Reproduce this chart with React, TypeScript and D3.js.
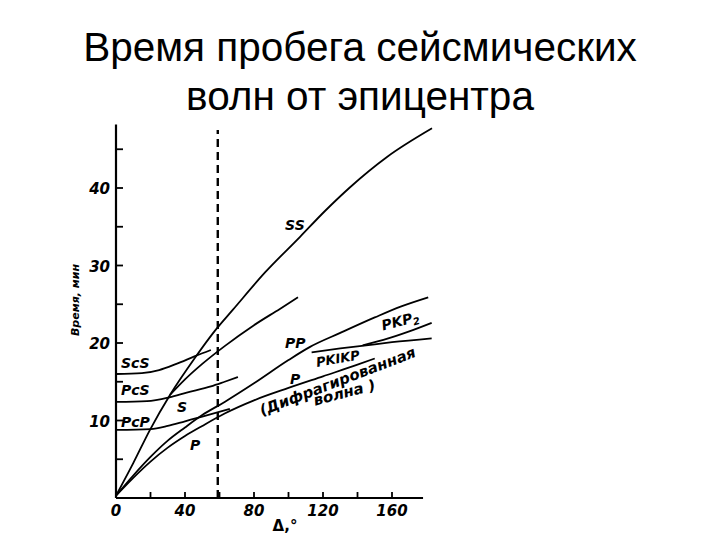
import React from "react";
import * as d3 from "d3";

const W = 720;
const H = 540;

// Axis ticks
const xTicks = [20, 40, 60, 80, 100, 120, 140, 160];
const xTickLabels = [0, 40, 80, 120, 160];
const yTicks = [5, 10, 15, 20, 25, 30, 35, 40, 45];
const yTickLabels = [10, 20, 30, 40];
const xAxisMax = 178;
const yAxisMax = 48.2;
const shadowBoundary = 59;

// Travel-time curves: [distance, deg ; time, min]
const curveSS: [number, number][] = [
  [0, 0.3], [10, 4.5], [19.7, 8.8], [31.3, 13.3], [45.8, 18.1], [57.4, 21.6], [67.8, 24.3],
  [86.4, 29.1], [106.7, 33.7], [121, 37.0], [135.7, 40.1], [157.1, 44.0], [183.2, 47.7],
];
const curveS: [number, number][] = [
  [31.3, 13.3], [40, 15.3], [50, 17.3], [63, 19.6], [80, 22.3], [95, 24.4], [105.5, 25.9],
];
const curveScS: [number, number][] = [
  [0, 16.0], [15, 16.1], [25, 16.5], [35, 17.3], [45.8, 18.3], [55, 19.1],
];
const curvePcS: [number, number][] = [
  [0, 12.4], [18, 12.5], [31, 13.0], [41, 13.6], [55, 14.4], [63, 15.0], [70.7, 15.6],
];
const curvePcP: [number, number][] = [
  [0, 8.8], [20, 8.9], [30, 9.3], [40, 9.9], [50, 10.5], [66, 11.5],
];
const curveP: [number, number][] = [
  [0, 0.3], [10, 2.6], [20, 4.7], [30, 6.5], [40, 8.0], [50, 9.3], [63, 10.9],
  [80, 12.6], [100, 14.2], [120, 15.7], [140, 17.2], [150, 18.0],
];
const curvePP: [number, number][] = [
  [0, 0.3], [10, 2.9], [20, 5.3], [30, 7.4], [40, 9.1], [50, 10.7], [63, 12.4],
  [80, 14.8], [100, 17.8], [112.5, 19.5], [130, 21.3], [150, 23.3], [165, 24.7], [181, 25.9],
];
const curvePKIKP: [number, number][] = [
  [113.4, 18.8], [130, 19.3], [145, 19.7], [160, 20.1], [183, 20.6],
];
const curvePKP2: [number, number][] = [
  [143, 19.7], [155, 20.4], [170, 21.5], [183, 22.6],
];

const curves = [curveSS, curveS, curveScS, curvePcS, curvePcP, curveP, curvePP, curvePKIKP, curvePKP2];

// Curve labels: text, distance, time, rotation
const curveLabels: { text: string; sub?: string; x: number; y: number; r: number; fs: number }[] = [
  { text: "SS", x: 98, y: 34.6, r: 0, fs: 14 },
  { text: "ScS", x: 2.9, y: 16.8, r: 0, fs: 14 },
  { text: "PcS", x: 2.9, y: 13.3, r: 0, fs: 14 },
  { text: "PcP", x: 2.9, y: 9.2, r: 0, fs: 14 },
  { text: "S", x: 35.4, y: 11.1, r: 0, fs: 14 },
  { text: "P", x: 42.9, y: 6.2, r: 0, fs: 14 },
  { text: "PP", x: 98, y: 19.4, r: 0, fs: 14 },
  { text: "P", x: 100.9, y: 14.7, r: 0, fs: 14 },
  { text: "PKIKP", x: 116.5, y: 16.9, r: -10, fs: 13 },
  { text: "PKP", sub: "2", x: 154.8, y: 21.6, r: -15, fs: 14 },
  { text: "(Дифрагированная", x: 84.6, y: 10.6, r: -21, fs: 15 },
  { text: "волна )", x: 115.4, y: 11.9, r: -15, fs: 15 },
];

const titleLines = ["Время пробега сейсмических", "волн от эпицентра"];
const yAxisTitle = "Время, мин";
const xAxisTitle = "Δ,°";

export default function App() {
  const x = d3.scaleLinear().domain([0, 160]).range([116, 392]);
  const y = d3.scaleLinear().domain([0, 40]).range([498, 188]);
  const line = d3
    .line<[number, number]>()
    .x((d) => x(d[0]))
    .y((d) => y(d[1]))
    .curve(d3.curveMonotoneX);

  const labelFont = "'DejaVu Sans', sans-serif";

  return (
    <svg
      width={W}
      height={H}
      style={{ position: "absolute", left: 0, top: 0, background: "#fff" }}
    >
      <rect width={W} height={H} fill="#fff" />
      {titleLines.map((t, i) => (
        <text
          key={i}
          x={360}
          y={61 + i * 49}
          textAnchor="middle"
          fontFamily="'Liberation Sans', Arial, sans-serif"
          fontSize={40.5}
          fill="#000"
        >
          {t}
        </text>
      ))}

      {/* axes */}
      <line x1={x(0)} y1={y(0)} x2={x(0)} y2={y(yAxisMax)} stroke="#000" strokeWidth={2.2} />
      <line x1={x(0)} y1={y(0)} x2={x(xAxisMax)} y2={y(0)} stroke="#000" strokeWidth={2.2} />
      {yTicks.map((t) => (
        <line key={t} x1={x(0)} x2={x(0) + 7} y1={y(t)} y2={y(t)} stroke="#000" strokeWidth={1.8} />
      ))}
      {xTicks.map((t) => (
        <line key={t} x1={x(t)} x2={x(t)} y1={y(0)} y2={y(0) - 6} stroke="#000" strokeWidth={1.8} />
      ))}
      {yTickLabels.map((t) => (
        <text
          key={t}
          x={x(0) - 6}
          y={y(t) + 6}
          textAnchor="end"
          fontFamily={labelFont}
          fontStyle="italic"
          fontWeight="bold"
          fontSize={15}
        >
          {t}
        </text>
      ))}
      {xTickLabels.map((t) => (
        <text
          key={t}
          x={x(t)}
          y={y(0) + 18}
          textAnchor="middle"
          fontFamily={labelFont}
          fontStyle="italic"
          fontWeight="bold"
          fontSize={15}
        >
          {t}
        </text>
      ))}
      <text
        x={285}
        y={531}
        textAnchor="middle"
        fontFamily={labelFont}
        fontWeight="bold"
        fontSize={15}
      >
        {xAxisTitle}
      </text>
      <text
        transform={`translate(79,300) rotate(-90)`}
        textAnchor="middle"
        fontFamily={labelFont}
        fontStyle="italic"
        fontWeight="bold"
        fontSize={11}
      >
        {yAxisTitle}
      </text>

      {/* shadow zone boundary */}
      <line
        x1={x(shadowBoundary)}
        x2={x(shadowBoundary)}
        y1={y(0)}
        y2={y(47.5)}
        stroke="#000"
        strokeWidth={2.4}
        strokeDasharray="8,5"
      />

      {curves.map((c, i) => (
        <path key={i} d={line(c) || ""} fill="none" stroke="#000" strokeWidth={1.8} />
      ))}

      {curveLabels.map((l, i) => (
        <text
          key={i}
          transform={`translate(${x(l.x)},${y(l.y)}) rotate(${l.r})`}
          fontFamily={labelFont}
          fontStyle="italic"
          fontWeight="bold"
          fontSize={l.fs}
        >
          {l.text}
          {l.sub ? (
            <tspan fontSize={10} dy={3}>
              {l.sub}
            </tspan>
          ) : null}
        </text>
      ))}
    </svg>
  );
}
